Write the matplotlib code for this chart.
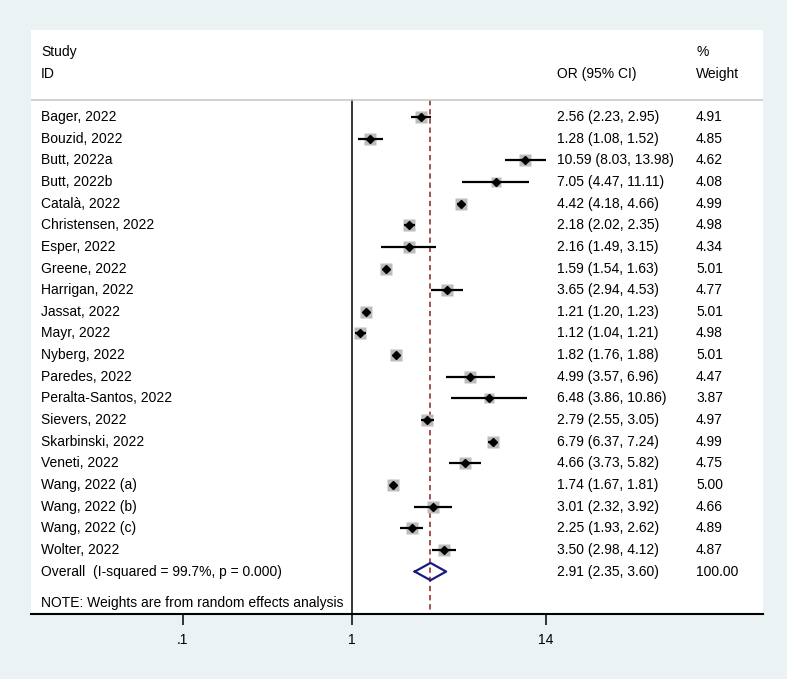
import numpy as np
import matplotlib
matplotlib.use('Agg')
from matplotlib import pyplot as plt
from matplotlib.transforms import blended_transform_factory

plt.rcParams['font.family'] = ['Liberation Sans', 'DejaVu Sans']

# study data
studies = ["Bager, 2022", "Bouzid, 2022", "Butt, 2022a", "Butt, 2022b", "Català, 2022",
           "Christensen, 2022", "Esper, 2022", "Greene, 2022", "Harrigan, 2022", "Jassat, 2022",
           "Mayr, 2022", "Nyberg, 2022", "Paredes, 2022", "Peralta-Santos, 2022", "Sievers, 2022",
           "Skarbinski, 2022", "Veneti, 2022", "Wang, 2022 (a)", "Wang, 2022 (b)", "Wang, 2022 (c)",
           "Wolter, 2022"]
odds = [2.56, 1.28, 10.59, 7.05, 4.42, 2.18, 2.16, 1.59, 3.65, 1.21, 1.12, 1.82, 4.99, 6.48,
        2.79, 6.79, 4.66, 1.74, 3.01, 2.25, 3.50]
lower = [2.23, 1.08, 8.03, 4.47, 4.18, 2.02, 1.49, 1.54, 2.94, 1.20, 1.04, 1.76, 3.57, 3.86,
         2.55, 6.37, 3.73, 1.67, 2.32, 1.93, 2.98]
upper = [2.95, 1.52, 13.98, 11.11, 4.66, 2.35, 3.15, 1.63, 4.53, 1.23, 1.21, 1.88, 6.96, 10.86,
         3.05, 7.24, 5.82, 1.81, 3.92, 2.62, 4.12]
weights = [4.91, 4.85, 4.62, 4.08, 4.99, 4.98, 4.34, 5.01, 4.77, 5.01, 4.98, 5.01, 4.47, 3.87,
           4.97, 4.99, 4.75, 5.00, 4.66, 4.89, 4.87]

overall_label = "Overall  (I-squared = 99.7%, p = 0.000)"
overall_or, overall_lo, overall_hi, overall_w = 2.91, 2.35, 3.60, 100.00

x_ticks = [0.1, 1, 14]
x_ticklabels = [".1", "1", "14"]

bg = '#eaf2f3'
fig = plt.figure(figsize=(7.87, 6.79), dpi=100, facecolor=bg)
ax = fig.add_axes([31/787, 65/679, 732/787, 584/679])
ax.set_facecolor('white')

ax.set_xscale('log')
ax.set_xlim(10**(-321/169.2), 10**(411/169.2))
ax.set_ylim(22.96, -4.02)

n = len(studies)
rows = np.arange(n)

# CI lines, weight boxes and point estimates
for i in range(n):
    ax.plot([lower[i], upper[i]], [rows[i], rows[i]], color='black', lw=1.6, zorder=3,
            solid_capstyle='butt')
    ax.plot(odds[i], rows[i], marker='s', ms=8.6*np.sqrt(weights[i]/5.01), color='#bcbcbc',
            mec='none', zorder=2)
    ax.plot(odds[i], rows[i], marker='D', ms=4.0, color='black', zorder=4)

# overall diamond
yo = n
ax.plot([overall_lo, overall_or, overall_hi, overall_or, overall_lo],
        [yo, yo - 0.4, yo, yo + 0.4, yo], color='#1a1a80', lw=1.6, zorder=4)

# null line and overall line
ax.plot([1, 1], [-0.79, 22.96], color='black', lw=1.1, zorder=1)
ax.plot([overall_or, overall_or], [-0.79, 22.96], color='#8b2323', lw=1.1,
        dashes=(3.5, 2.5), zorder=1)

# header separator
ax.axhline(-0.79, color='#c8c8c8', lw=1.2)

tr = blended_transform_factory(ax.transAxes, ax.transData)
fs = 10
x_lab, x_or, x_w = 0.0137, 0.7186, 0.9085
ax.text(x_lab, -3.0, "Study", transform=tr, fontsize=fs, va='center')
ax.text(x_lab, -1.99, "ID", transform=tr, fontsize=fs, va='center')
ax.text(x_or, -1.99, "OR (95% CI)", transform=tr, fontsize=fs, va='center')
ax.text(x_w, -3.0, "%", transform=tr, fontsize=fs, va='center')
ax.text(x_w, -1.99, "Weight", transform=tr, fontsize=fs, va='center')

for i in range(n):
    ax.text(x_lab, rows[i], studies[i], transform=tr, fontsize=fs, va='center')
    ax.text(x_or, rows[i], "%.2f (%.2f, %.2f)" % (odds[i], lower[i], upper[i]),
            transform=tr, fontsize=fs, va='center')
    ax.text(x_w, rows[i], "%.2f" % weights[i], transform=tr, fontsize=fs, va='center')

ax.text(x_lab, yo, overall_label, transform=tr, fontsize=fs, va='center')
ax.text(x_or, yo, "%.2f (%.2f, %.2f)" % (overall_or, overall_lo, overall_hi),
        transform=tr, fontsize=fs, va='center')
ax.text(x_w, yo, "%.2f" % overall_w, transform=tr, fontsize=fs, va='center')
ax.text(x_lab, 22.43, "NOTE: Weights are from random effects analysis", transform=tr,
        fontsize=fs, va='center')

# axes styling
for s in ['top', 'right', 'left']:
    ax.spines[s].set_visible(False)
ax.spines['bottom'].set_linewidth(1.5)
ax.set_yticks([])
ax.set_xticks(x_ticks)
ax.set_xticklabels(x_ticklabels, fontsize=fs)
ax.xaxis.set_minor_locator(matplotlib.ticker.NullLocator())
ax.tick_params(axis='x', length=8, width=1.1, pad=6)

plt.savefig('out.png', dpi=100, facecolor=bg)
